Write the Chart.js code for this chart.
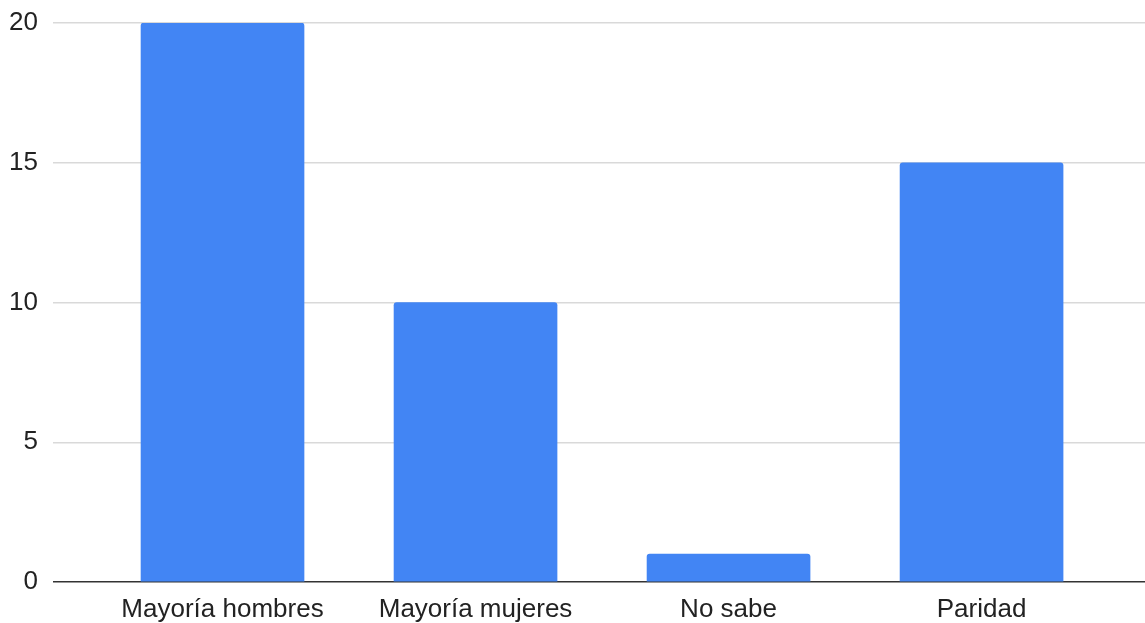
<!DOCTYPE html>
<html>
<head>
<meta charset="utf-8">
<script src="https://cdn.jsdelivr.net/npm/chart.js@4/dist/chart.umd.min.js"></script>
<style>
  html, body { margin: 0; padding: 0; background: #fff; }
  #wrap { width: 1145px; height: 623px; }
</style>
</head>
<body>
<div id="wrap"><canvas id="barChart"></canvas></div>
<script>
const categories = ["Mayoría hombres", "Mayoría mujeres", "No sabe", "Paridad"];
const votes = [20, 10, 1, 15];
const yTicks = [0, 5, 10, 15, 20];

const ctx = document.getElementById('barChart');
const labelFont = { family: "'Liberation Sans', Arial, sans-serif", size: 26 };

new Chart(
    ctx, {
        type: 'bar',
        data: {
            datasets: [
                {
                    label: "Respuestas",
                    data: votes.map((v, i) => ({ x: i, y: v })),
                    backgroundColor: '#4285f4',
                    borderWidth: 0,
                    borderRadius: { topLeft: 3, topRight: 3 },
                    borderSkipped: 'bottom',
                    barThickness: 163,
                }
            ]
        },
        options: {
            responsive: true,
            maintainAspectRatio: false,
            animation: false,
            layout: { padding: { top: 23, right: 0, bottom: 0, left: 0 } },
            plugins: {
                legend: { display: false },
                tooltip: { enabled: false },
            },
            scales: {
                x: {
                    type: 'linear',
                    offset: false,
                    min: -0.67,
                    max: 3.646,
                    afterBuildTicks: (scale) => {
                        scale.ticks = categories.map((_, i) => ({ value: i }));
                    },
                    afterFit: (scale) => { scale.height = 41; },
                    ticks: {
                        autoSkip: false,
                        maxRotation: 0,
                        padding: 4,
                        color: '#222',
                        font: labelFont,
                        callback: (v) => categories[v],
                    },
                    grid: { display: false },
                    border: { display: false },
                },
                y: {
                    min: 0,
                    max: 20,
                    afterBuildTicks: (scale) => {
                        scale.ticks = yTicks.map(v => ({ value: v }));
                    },
                    afterFit: (scale) => {
                        scale.width = 53;
                        scale.paddingTop = 0;
                        scale.paddingBottom = 0;
                    },
                    ticks: {
                        padding: 15,
                        color: '#222',
                        font: labelFont,
                    },
                    grid: {
                        drawTicks: false,
                        color: (c) => c.tick && c.tick.value === 0 ? '#333' : '#d9d9d9',
                        lineWidth: 1.5,
                    },
                    border: { display: false },
                }
            }
        }
    }
);
</script>
</body>
</html>
